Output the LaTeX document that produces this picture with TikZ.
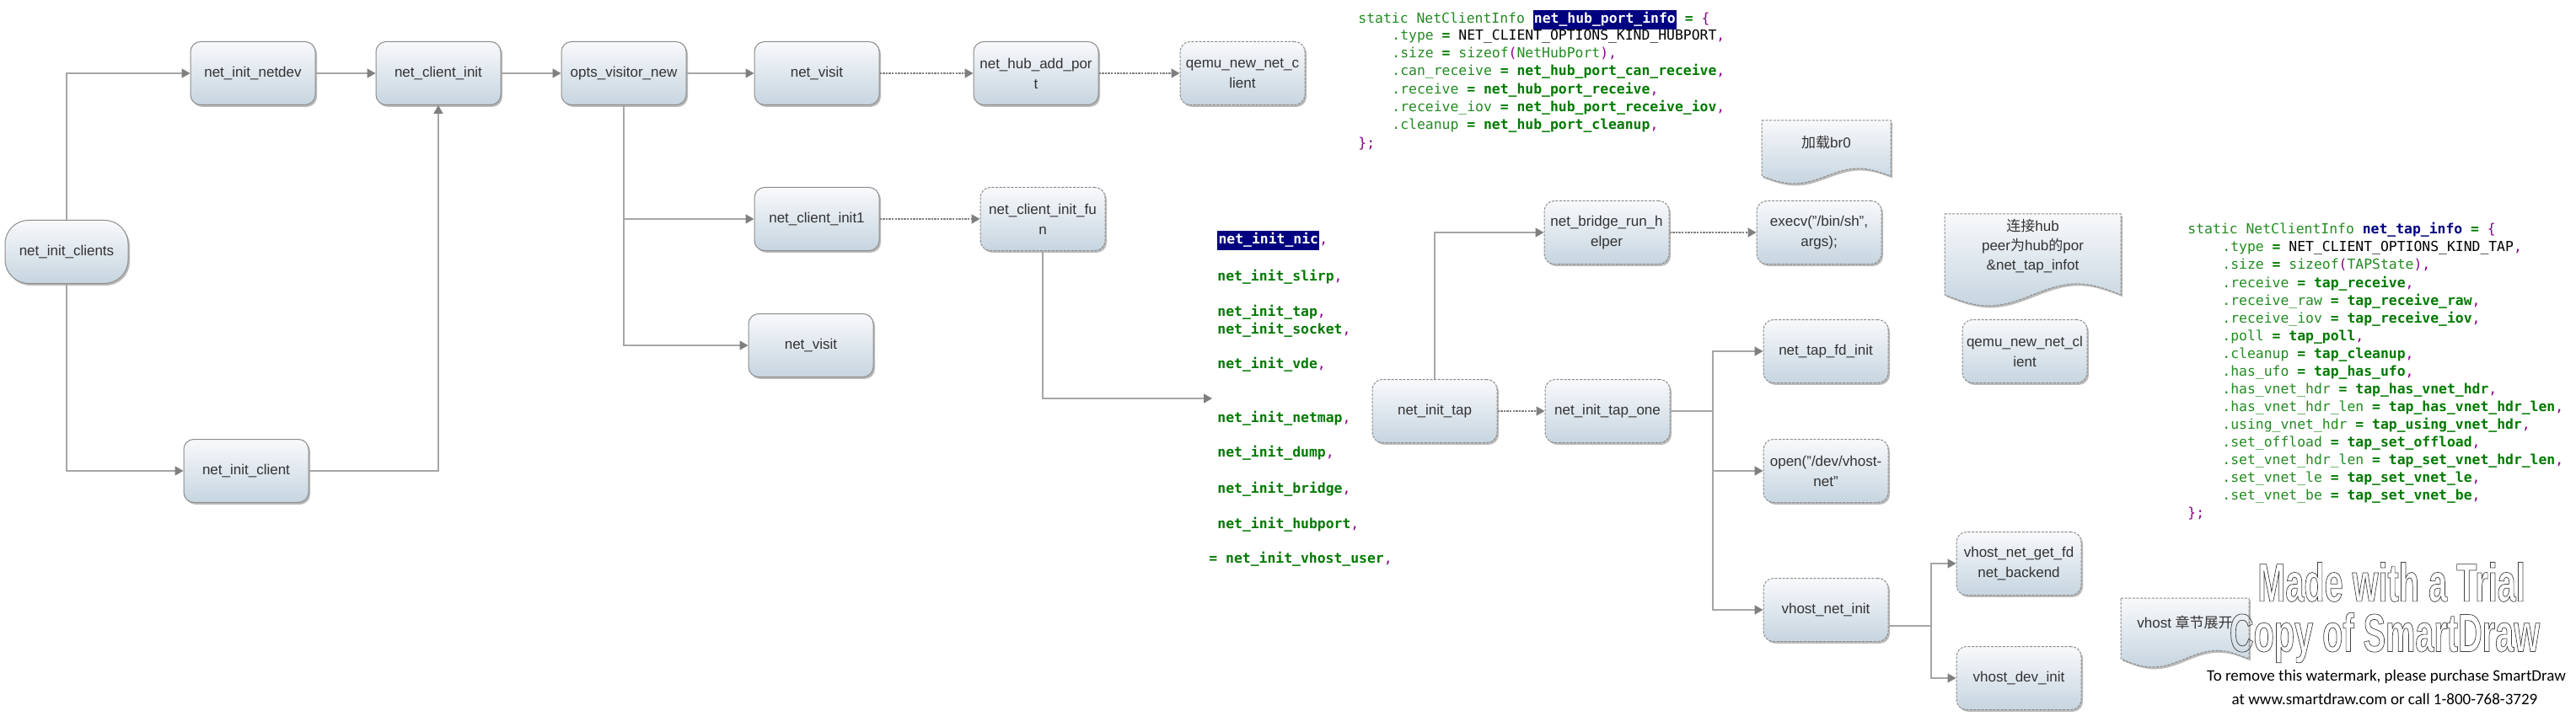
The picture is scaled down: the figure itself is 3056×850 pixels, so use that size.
\documentclass[tikz,border=0pt]{standalone}
\usepackage{fontspec}
\setmainfont{Liberation Sans}
\newfontfamily\codefont{DejaVu Sans Mono}
\newfontfamily\cjkfont{Noto Sans CJK SC}
\newfontfamily\wmfont[FakeStretch=0.62]{Liberation Sans}
\newfontfamily\notefont{Carlito}
\usetikzlibrary{arrows.meta,shadows}

\definecolor{boxtop}{HTML}{F8F9FB}
\definecolor{boxbot}{HTML}{C6D5E0}
\definecolor{boxline}{HTML}{8C8C8C}
\definecolor{linkgray}{HTML}{A6A6A6}
\definecolor{tipgray}{HTML}{7F7F7F}
\definecolor{txtgray}{HTML}{333333}
\definecolor{codegreen}{HTML}{228B22}
\definecolor{codebold}{HTML}{007A00}
\definecolor{codepurple}{HTML}{8B008B}
\definecolor{codenavy}{HTML}{000080}

\newcommand{\cg}[1]{\textcolor{codegreen}{#1}}
\newcommand{\cb}[1]{\textcolor{codebold}{\bfseries #1}}
\newcommand{\cp}[1]{\textcolor{codepurple}{#1}}
\newcommand{\hl}[1]{{\setlength\fboxsep{0.6pt}\colorbox{codenavy}{\strut\textcolor{white}{\bfseries #1}}}}

% document shape with a wavy bottom
\newcommand{\docnote}[6]{%
  \path[docbox] (#2,#3) -- (#4,#3)
    -- plot[domain=1:0,samples=30,variable=\wv] ({#2+\wv*(#4-#2)}, {#3+(0.88+0.12*sin(360*\wv))*(#5-#3)})
    -- cycle;
  \node[notetext] (#1) at ({(#2+#4)/2}, {#3+0.35*(#5-#3)}) {#6};
}

\tikzset{>={Triangle[length=5pt,width=5.5pt,color=tipgray]}}
\tikzset{
  fnbox/.style={rectangle, rounded corners=6pt, draw=boxline, line width=0.5pt,
    top color=boxtop, bottom color=boxbot, minimum width=74pt, minimum height=37.5pt,
    align=center, text=txtgray, font=\fontsize{8.5}{12}\selectfont, inner sep=1pt,
    drop shadow={shadow xshift=1pt, shadow yshift=-1.2pt, fill=black!45, opacity=0.6}},
  fncall/.style={fnbox, dash pattern=on 1.5pt off 0.8pt},
  docbox/.style={draw=boxline, line width=0.5pt, dash pattern=on 1.5pt off 0.8pt,
    top color=boxtop, bottom color=boxbot,
    drop shadow={shadow xshift=1pt, shadow yshift=-1.2pt, fill=black!45, opacity=0.6}},
  notetext/.style={align=center, text=txtgray, font=\fontsize{8.5}{11.5}\selectfont, inner sep=0pt},
  link/.style={draw=linkgray, line width=0.7pt},
  dotlink/.style={draw=gray, line width=0.9pt, dash pattern=on 1.2pt off 0.6pt},
  codeline/.style={anchor=west, inner sep=0pt, text height=7pt, text depth=2pt,
    font=\codefont\fontsize{8.2}{10.5}\selectfont},
  wmtext/.style={inner sep=0pt, text=black!75, font=\wmfont\bfseries\fontsize{32}{32}\selectfont},
  buytext/.style={inner sep=0pt, font=\notefont\fontsize{9.5}{11}\selectfont}
}

\begin{document}
\begin{tikzpicture}[x=0.5pt,y=-0.5pt]
  \fill[white] (0,0) rectangle (3056,850);
  \useasboundingbox (0,0) rectangle (3056,850);

  % Call chain, left part
  \node[fnbox, rounded corners=14pt, minimum width=73pt] (clients) at (79,299) {net\_init\_clients};
  \node[fnbox] (netdev) at (300,87) {net\_init\_netdev};
  \node[fnbox] (cinit) at (520,87) {net\_client\_init};
  \node[fnbox] (opts) at (740,87) {opts\_visitor\_new};
  \node[fnbox] (visitA) at (969,87) {net\_visit};
  \node[fnbox] (hubadd) at (1229,87) {net\_hub\_add\_por\\t};
  \node[fncall] (qemuA) at (1474,87) {qemu\_new\_net\_c\\lient};
  \node[fnbox] (cinit1) at (969,260) {net\_client\_init1};
  \node[fncall] (cfun) at (1237,260) {net\_client\_init\_fu\\n};
  \node[fnbox] (visitB) at (962,410) {net\_visit};
  \node[fnbox] (iclient) at (292,559) {net\_init\_client};
  \coordinate (tablist) at (1438,473);

  \draw[link,->] (clients.north) |- (netdev.west);
  \draw[link,->] (clients.south) |- (iclient.west);
  \draw[link,->] (netdev) -- (cinit);
  \draw[link,->] (cinit) -- (opts);
  \draw[link,->] (opts) -- (visitA);
  \draw[dotlink,->] (visitA) -- (hubadd);
  \draw[dotlink,->] (hubadd) -- (qemuA);
  \draw[link,->] (opts.south) |- (cinit1.west);
  \draw[link,->] (opts.south) |- (visitB.west);
  \draw[dotlink,->] (cinit1) -- (cfun);
  \draw[link,->] (iclient.east) -| (cinit.south);
  \draw[link,->] (cfun.south) |- (tablist);

  % Tap branch
  \node[fncall] (tap) at (1702,488) {net\_init\_tap};
  \node[fncall] (tapone) at (1907,488) {net\_init\_tap\_one};
  \node[fncall] (bridge) at (1906,276) {net\_bridge\_run\_h\\elper};
  \node[fncall] (execv) at (2158,276) {execv("/bin/sh",\\args);};
  \node[fncall] (fdinit) at (2166,417) {net\_tap\_fd\_init};
  \node[fncall] (open) at (2166,559) {open("/dev/vhost-\\net"};
  \node[fncall] (vnetinit) at (2166,724) {vhost\_net\_init};
  \node[fncall] (getfd) at (2395,669) {vhost\_net\_get\_fd\\net\_backend};
  \node[fncall] (devinit) at (2395,805) {vhost\_dev\_init};
  \node[fncall] (qemuB) at (2402,417) {qemu\_new\_net\_cl\\ient};
  \coordinate (tapfork) at (2032,488);
  \coordinate (vfork) at (2291,743);

  \draw[link,->] (tap.north) |- (bridge.west);
  \draw[dotlink,->] (bridge) -- (execv);
  \draw[dotlink,->] (tap) -- (tapone);
  \draw[link] (tapone.east) -- (tapfork);
  \draw[link,->] (tapfork) |- (fdinit.west);
  \draw[link,->] (tapfork) |- (open.west);
  \draw[link,->] (tapfork) |- (vnetinit.west);
  \draw[link] ([yshift=-9.5pt]vnetinit.east) -- (vfork);
  \draw[link,->] (vfork) |- (getfd.west);
  \draw[link,->] (vfork) |- (devinit.west);

  % Notes
  \docnote{brnote}{2090}{143}{2243}{218}{{\cjkfont 加载}br0}
  \docnote{hubnote}{2307}{254}{2516}{363}{{\cjkfont 连接}hub\\peer{\cjkfont 为}hub{\cjkfont 的}por\\\&net\_tap\_infot}
  \docnote{vhostnote}{2516}{710}{2668}{792}{vhost {\cjkfont 章节展开}}

  % net_hub_port_info
  \node[codeline] (hubhead) at (1611,23) {\cg{static NetClientInfo }\hl{net\_hub\_port\_info} \cb{=} \cp{\{}};
  \node[codeline] (hubtype) at (1651,43) {\cg{.type} \cb{=} NET\_CLIENT\_OPTIONS\_KIND\_HUBPORT\cp{,}};
  \node[codeline] (hubsize) at (1651,64) {\cg{.size} \cb{=} \cg{sizeof}\cp{(}\cg{NetHubPort}\cp{),}};
  \foreach \yy/\fld/\fun [count=\i] in {85/can\_receive/net\_hub\_port\_can\_receive,
      107/receive/net\_hub\_port\_receive, 128/receive\_iov/net\_hub\_port\_receive\_iov,
      149/cleanup/net\_hub\_port\_cleanup}
    \node[codeline] (hubf\i) at (1651,\yy) {\cg{.\fld} \cb{= \fun}\cp{,}};
  \node[codeline] (hubend) at (1611,171) {\cp{\};}};

  % net_client_init_fun table
  \node[codeline] (initnic) at (1444,285) {\hl{net\_init\_nic}\cp{,}};
  \foreach \yy/\nm [count=\i] in {328/slirp, 370/tap, 391/socket, 432/vde, 496/netmap,
      537/dump, 580/bridge, 622/hubport}
    \node[codeline] (init\i) at (1444,\yy) {\cb{net\_init\_\nm}\cp{,}};
  \node[codeline] (initvu) at (1434,663) {\cb{= net\_init\_vhost\_user}\cp{,}};

  % net_tap_info
  \node[codeline] (taphead) at (2595,273) {\cg{static NetClientInfo }\textcolor{codenavy}{\bfseries net\_tap\_info} \cb{=} \cp{\{}};
  \node[codeline] (taptype) at (2636,294) {\cg{.type} \cb{=} NET\_CLIENT\_OPTIONS\_KIND\_TAP\cp{,}};
  \node[codeline] (tapsize) at (2636,315) {\cg{.size} \cb{=} \cg{sizeof}\cp{(}\cg{TAPState}\cp{),}};
  \foreach \fld/\fun [count=\i] in {receive/tap\_receive, receive\_raw/tap\_receive\_raw,
      receive\_iov/tap\_receive\_iov, poll/tap\_poll, cleanup/tap\_cleanup,
      has\_ufo/tap\_has\_ufo, has\_vnet\_hdr/tap\_has\_vnet\_hdr,
      has\_vnet\_hdr\_len/tap\_has\_vnet\_hdr\_len, using\_vnet\_hdr/tap\_using\_vnet\_hdr,
      set\_offload/tap\_set\_offload, set\_vnet\_hdr\_len/tap\_set\_vnet\_hdr\_len,
      set\_vnet\_le/tap\_set\_vnet\_le, set\_vnet\_be/tap\_set\_vnet\_be}
    \node[codeline] (tapf\i) at (2636,{315+21*\i}) {\cg{.\fld} \cb{= \fun}\cp{,}};
  \node[codeline] (tapend) at (2595,609) {\cp{\};}};

  % Watermark
  \node[wmtext] (wmtop) at (2837,691) {\special{pdf:literal direct 1 Tr 0.35 w}Made with a Trial\special{pdf:literal direct 0 Tr}};
  \node[wmtext] (wmbot) at (2829,757) {\special{pdf:literal direct 1 Tr 0.35 w}Copy of SmartDraw\special{pdf:literal direct 0 Tr}};
  \node[buytext] (buyA) at (2831,803) {To remove this watermark, please purchase SmartDraw};
  \node[buytext] (buyB) at (2829,830) {at www.smartdraw.com or call 1-800-768-3729};
\end{tikzpicture}
\end{document}
